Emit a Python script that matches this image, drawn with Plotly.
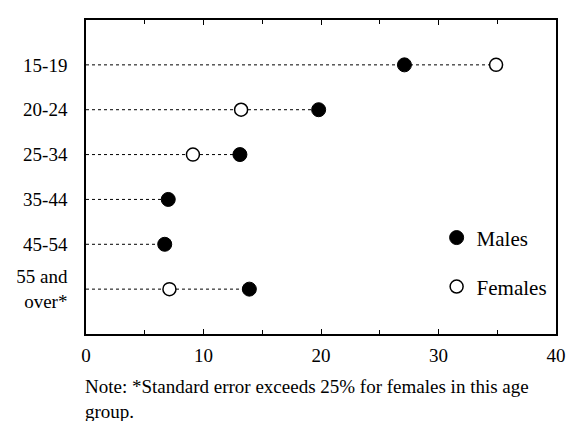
import plotly.graph_objects as go

age_groups = ["15-19", "20-24", "25-34", "35-44", "45-54", "55 and<br>over*"]
males = [27.1, 19.8, 13.1, 7.0, 6.7, 13.9]
females = [34.9, 13.2, 9.1, None, None, 7.1]
x_ticks = [0, 10, 20, 30, 40]
note = "Note: *Standard error exceeds 25% for females in this age<br>group."

FONT = "Liberation Serif"

fig = go.Figure()

# dotted guide lines from 0 to the furthest value in each row
lx, ly = [], []
for cat, m, f in zip(age_groups, males, females):
    end = max(v for v in (m, f) if v is not None)
    lx += [0, end, None]
    ly += [cat, cat, None]
fig.add_trace(go.Scatter(x=lx, y=ly, mode="lines",
                         line=dict(color="black", width=1, dash="dot"),
                         showlegend=False, hoverinfo="skip"))

fig.add_trace(go.Scatter(x=males, y=age_groups, mode="markers", name="Males",
                         marker=dict(symbol="circle", size=14, color="black",
                                     line=dict(color="black", width=1)),
                         legend="legend"))
fig.add_trace(go.Scatter(x=females, y=age_groups, mode="markers", name="Females",
                         marker=dict(symbol="circle", size=13, color="white",
                                     line=dict(color="black", width=1.5)),
                         legend="legend2"))

legend_style = dict(font=dict(family=FONT, size=21, color="black"),
                    bgcolor="rgba(0,0,0,0)", xanchor="left", yanchor="middle",
                    itemwidth=30, tracegroupgap=0)

fig.update_layout(
    width=566, height=421,
    margin=dict(l=86, r=10, t=20, b=87),
    plot_bgcolor="white", paper_bgcolor="white",
    font=dict(family=FONT, size=19, color="black"),
    legend=dict(x=0.746, y=0.306, **legend_style),
    legend2=dict(x=0.746, y=0.150, **legend_style),
    xaxis=dict(range=[0, 40], tickvals=x_ticks, ticktext=[str(v) for v in x_ticks],
               showgrid=False, zeroline=False, showline=True, linecolor="black",
               linewidth=1.5, mirror="allticks", ticks="inside", ticklen=5,
               tickcolor="black", tickfont=dict(size=19), automargin=False,
               ticklabelstandoff=3,
               minor=dict(ticks="inside", ticklen=4, dtick=5, tickcolor="black")),
    yaxis=dict(categoryorder="array", categoryarray=age_groups[::-1],
               range=[-1, 6], showgrid=False, zeroline=False, showline=True,
               linecolor="black", linewidth=1.5, mirror=True, ticks="",
               ticklabelstandoff=13, tickfont=dict(size=19), automargin=False),
    annotations=[dict(text=note, xref="paper", yref="paper", x=-0.006, y=-0.128,
                      xanchor="left", yanchor="top", showarrow=False, align="left",
                      font=dict(family=FONT, size=19, color="black"))],
)

fig.write_html(
    "out.html",
    config={"displayModeBar": False},
    post_script="document.body.style.margin='0';document.body.style.overflow='hidden';",
)
